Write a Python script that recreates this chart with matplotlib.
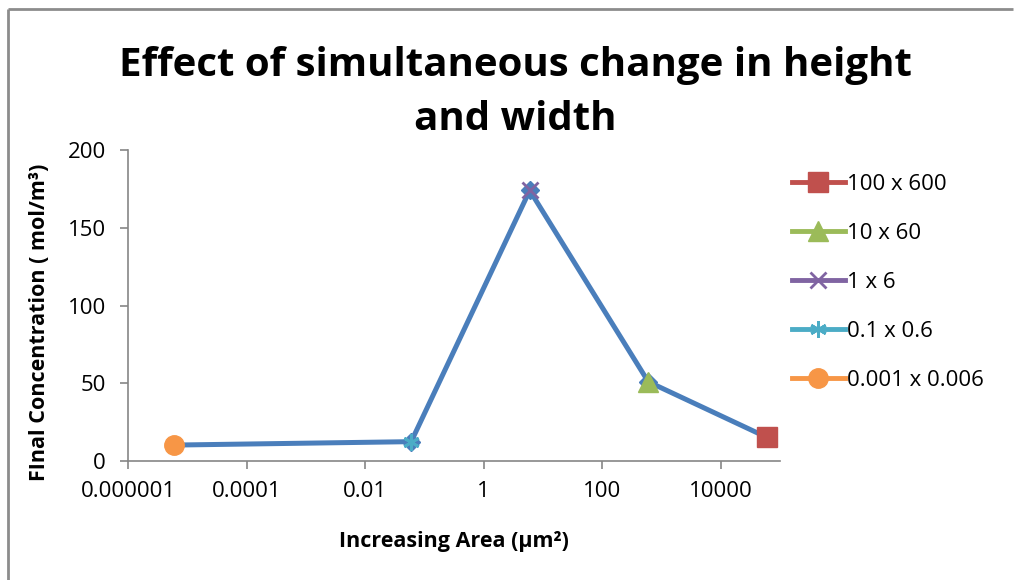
import matplotlib.pyplot as plt
from matplotlib.lines import Line2D

plt.rcParams["font.family"] = ["Open Sans", "DejaVu Sans"]

# area = height x width (um^2), final concentration (mol/m^3)
labels = ["0.001 x 0.006", "0.1 x 0.6", "1 x 6", "10 x 60", "100 x 600"]
areas = [0.000006, 0.06, 6, 600, 60000]
conc = [10.3, 12.5, 174, 51, 15.3]

markers = ["o", "*", "x", "^", "s"]
colors = ["#f79646", "#4bacc6", "#8064a2", "#9bbb59", "#c0504d"]
legend_order = ["100 x 600", "10 x 60", "1 x 6", "0.1 x 0.6", "0.001 x 0.006"]

fig = plt.figure(figsize=(10.14, 5.80), dpi=100)
ax = fig.add_axes([0.1262, 0.205, 0.643, 0.5364])

# outer chart border (left + top visible)
fig.add_artist(Line2D([0.0075, 0.0075], [0, 0.985], transform=fig.transFigure,
                      color="#8c8c8c", lw=2, solid_capstyle="butt"))
fig.add_artist(Line2D([0.0075, 0.999], [0.985, 0.985], transform=fig.transFigure,
                      color="#8c8c8c", lw=2, solid_capstyle="butt"))

ax.plot(areas, conc, color="#4a7ebb", lw=3.6, marker="D", markersize=9,
        zorder=2)

handles = {}
for lab, a, c, m, col in zip(labels, areas, conc, markers, colors):
    ms = 14 if m in ("o", "s", "^") else 12
    mew = 2 if m in ("x", "*") else 1
    if m == "*":
        m = (6, 2, 0)
    h, = ax.plot([a], [c], linestyle="-", lw=3.5, color=col, marker=m,
                 markersize=ms, markeredgewidth=mew, markeredgecolor=col,
                 zorder=3)
    handles[lab] = h

ax.set_xscale("log")
ax.set_xlim(1e-6, 1e5)
ax.set_ylim(0, 200)
xticks = [1e-6, 1e-4, 1e-2, 1, 100, 10000]
xticklabels = ["0.000001", "0.0001", "0.01", "1", "100", "10000"]
ax.set_xticks(xticks)
ax.set_xticklabels(xticklabels)
ax.minorticks_off()
ax.set_yticks([0, 50, 100, 150, 200])

for side in ("top", "right"):
    ax.spines[side].set_visible(False)
for side in ("left", "bottom"):
    ax.spines[side].set_color("#868686")
    ax.spines[side].set_linewidth(1.2)
ax.tick_params(axis="both", direction="out", length=6, width=1.2,
               color="#868686", labelsize=16)
ax.tick_params(axis="y", pad=10)
ax.tick_params(axis="x", pad=8)

ax.set_xlabel("Increasing Area (µm²)", fontsize=15.5, fontweight="bold",
              labelpad=21)
ax.set_ylabel("FInal Concentration ( mol/m³)", fontsize=15.5, fontweight="bold")
ax.yaxis.set_label_coords(-0.12, 0.445)

fig.text(0.508, 0.84, "Effect of simultaneous change in height\nand width",
         ha="center", va="center", fontsize=29, fontweight="bold",
         linespacing=1.5)

leg = fig.legend([handles[l] for l in legend_order], legend_order,
                 loc="upper left", bbox_to_anchor=(0.772, 0.716),
                 frameon=False, fontsize=16, handlelength=2.4,
                 handletextpad=0.1, labelspacing=1.26, borderaxespad=0)

fig.savefig("out.png", dpi=100)
